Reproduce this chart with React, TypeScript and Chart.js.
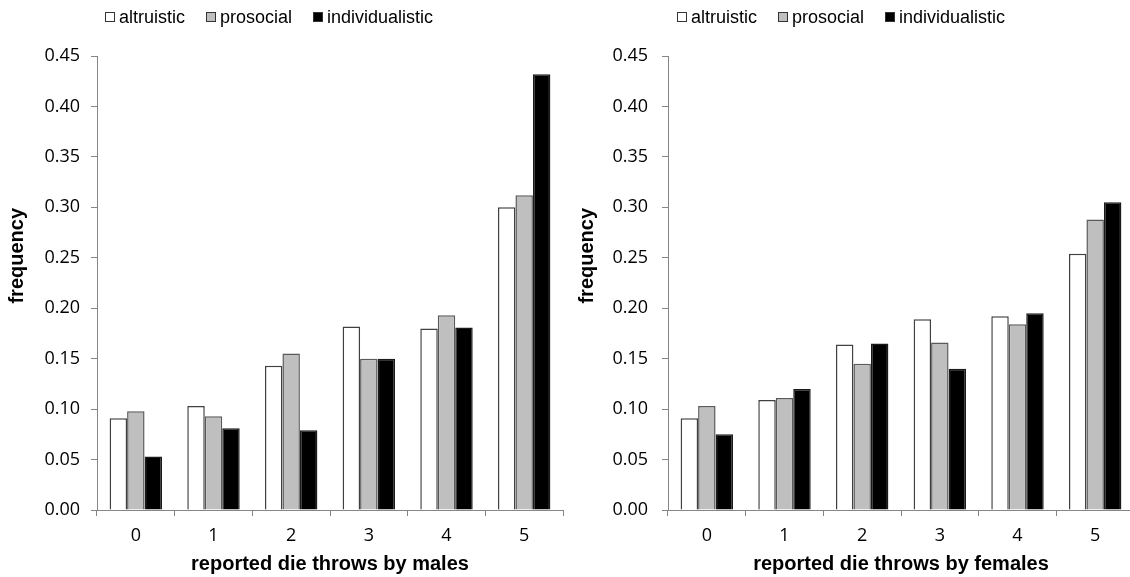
import React, { useEffect, useRef } from "react";
import { Chart, registerables } from "chart.js";

Chart.register(...registerables);

const categories = ["0", "1", "2", "3", "4", "5"];
const seriesNames = ["altruistic", "prosocial", "individualistic"];

const maleAltruistic = [0.091, 0.103, 0.143, 0.182, 0.18, 0.3];
const maleProsocial = [0.098, 0.093, 0.155, 0.15, 0.193, 0.312];
const maleIndividualistic = [0.053, 0.081, 0.079, 0.15, 0.181, 0.432];

const femaleAltruistic = [0.091, 0.109, 0.164, 0.189, 0.192, 0.254];
const femaleProsocial = [0.103, 0.111, 0.145, 0.166, 0.184, 0.288];
const femaleIndividualistic = [0.075, 0.12, 0.165, 0.14, 0.195, 0.305];

const yMin = 0;
const yMax = 0.45;
const yStep = 0.05;
const yTitle = "frequency";

const fills = ["#ffffff", "#bfbfbf", "#000000"];
const borders = ["#404040", "#5a5a5a", "#1a1a1a"];
const axisColor = "#868686";

type PanelProps = {
  left: number;
  width: number;
  yAxisWidth: number;
  rightPad: number;
  yTitleX: number;
  yTickPad: number;
  xTitle: string;
  values: number[][];
  legendLeft: number;
};

function Panel(props: PanelProps) {
  const ref = useRef<HTMLCanvasElement | null>(null);
  useEffect(() => {
    if (!ref.current) return;
    const yTitlePlugin = {
      id: "yTitleOffset",
      afterDraw(chart: any) {
        const { ctx, chartArea } = chart;
        const cy = chartArea.top + (chartArea.bottom - chartArea.top) * 0.44;
        ctx.save();
        ctx.translate(props.yTitleX, cy);
        ctx.rotate(-Math.PI / 2);
        ctx.font = "bold 20px 'Liberation Sans'";
        ctx.fillStyle = "#000";
        ctx.textAlign = "center";
        ctx.textBaseline = "middle";
        ctx.fillText(yTitle, 0, 0);
        ctx.restore();
      },
    };
    const chart = new Chart(ref.current, {
      type: "bar",
      data: {
        labels: categories,
        datasets: props.values.map((v, i) => ({
          label: seriesNames[i],
          data: v,
          backgroundColor: fills[i],
          borderColor: borders[i],
          borderWidth: 1.5,
          categoryPercentage: 0.675,
          barPercentage: 1.0,
        })),
      },
      plugins: [yTitlePlugin],
      options: {
        responsive: false,
        animation: false,
        devicePixelRatio: 1,
        layout: { padding: { top: 56, left: 0, right: props.rightPad, bottom: 0 } },
        plugins: { legend: { display: false }, tooltip: { enabled: false } },
        scales: {
          x: {
            type: "category",
            offset: true,
            grid: {
              display: true,
              drawOnChartArea: false,
              offset: true,
              tickLength: 6,
              color: axisColor,
              tickColor: axisColor,
            },
            border: { display: true, color: axisColor, width: 1 },
            ticks: {
              color: "#000",
              font: { family: "'Open Sans'", size: 18 },
              padding: 9,
              maxRotation: 0,
            },
            title: {
              display: true,
              text: props.xTitle,
              color: "#000",
              font: { family: "'Liberation Sans'", size: 20, weight: "bold", lineHeight: 1 },
              padding: { top: 0, bottom: 3 },
            },
            afterFit: (s: any) => {
              s.height = 67;
            },
          },
          y: {
            min: yMin,
            max: yMax,
            grid: {
              display: true,
              drawOnChartArea: false,
              tickLength: 6,
              color: axisColor,
              tickColor: axisColor,
            },
            border: { display: true, color: axisColor, width: 1 },
            ticks: {
              stepSize: yStep,
              color: "#000",
              font: { family: "'Open Sans'", size: 18 },
              padding: props.yTickPad,
              callback: (v: any) => Number(v).toFixed(2),
            },
            title: { display: false },
            afterFit: (s: any) => {
              s.width = props.yAxisWidth;
            },
          },
        },
      },
    } as any);
    return () => chart.destroy();
  }, []);

  return (
    <>
      <canvas
        ref={ref}
        width={props.width}
        height={577}
        style={{ position: "absolute", left: props.left, top: 0, width: props.width, height: 577 }}
      />
      <div
        style={{
          position: "absolute",
          left: props.legendLeft,
          top: 7,
          height: 20,
          display: "flex",
          alignItems: "center",
          gap: 21,
          fontFamily: "'Liberation Sans', Arial, sans-serif",
          fontSize: 18,
          lineHeight: "20px",
          color: "#000",
          whiteSpace: "nowrap",
        }}
      >
        {seriesNames.map((n, i) => (
          <div key={n} style={{ display: "flex", alignItems: "center" }}>
            <span
              style={{
                display: "inline-block",
                width: 8,
                height: 8,
                background: fills[i],
                border: "1px solid #333",
                marginRight: 4,
              }}
            />
            <span>{n}</span>
          </div>
        ))}
      </div>
    </>
  );
}

export default function App() {
  return (
    <div
      style={{
        position: "fixed",
        left: 0,
        top: 0,
        width: 1130,
        height: 577,
        overflow: "hidden",
        background: "#fff",
      }}
    >
      <Panel
        left={0}
        width={575}
        yAxisWidth={97}
        rightPad={12}
        yTitleX={17.5}
        yTickPad={11}
        xTitle="reported die throws by males"
        values={[maleAltruistic, maleProsocial, maleIndividualistic]}
        legendLeft={105}
      />
      <Panel
        left={565}
        width={575}
        yAxisWidth={103}
        rightPad={6}
        yTitleX={22.5}
        yTickPad={14}
        xTitle="reported die throws by females"
        values={[femaleAltruistic, femaleProsocial, femaleIndividualistic]}
        legendLeft={677}
      />
    </div>
  );
}
